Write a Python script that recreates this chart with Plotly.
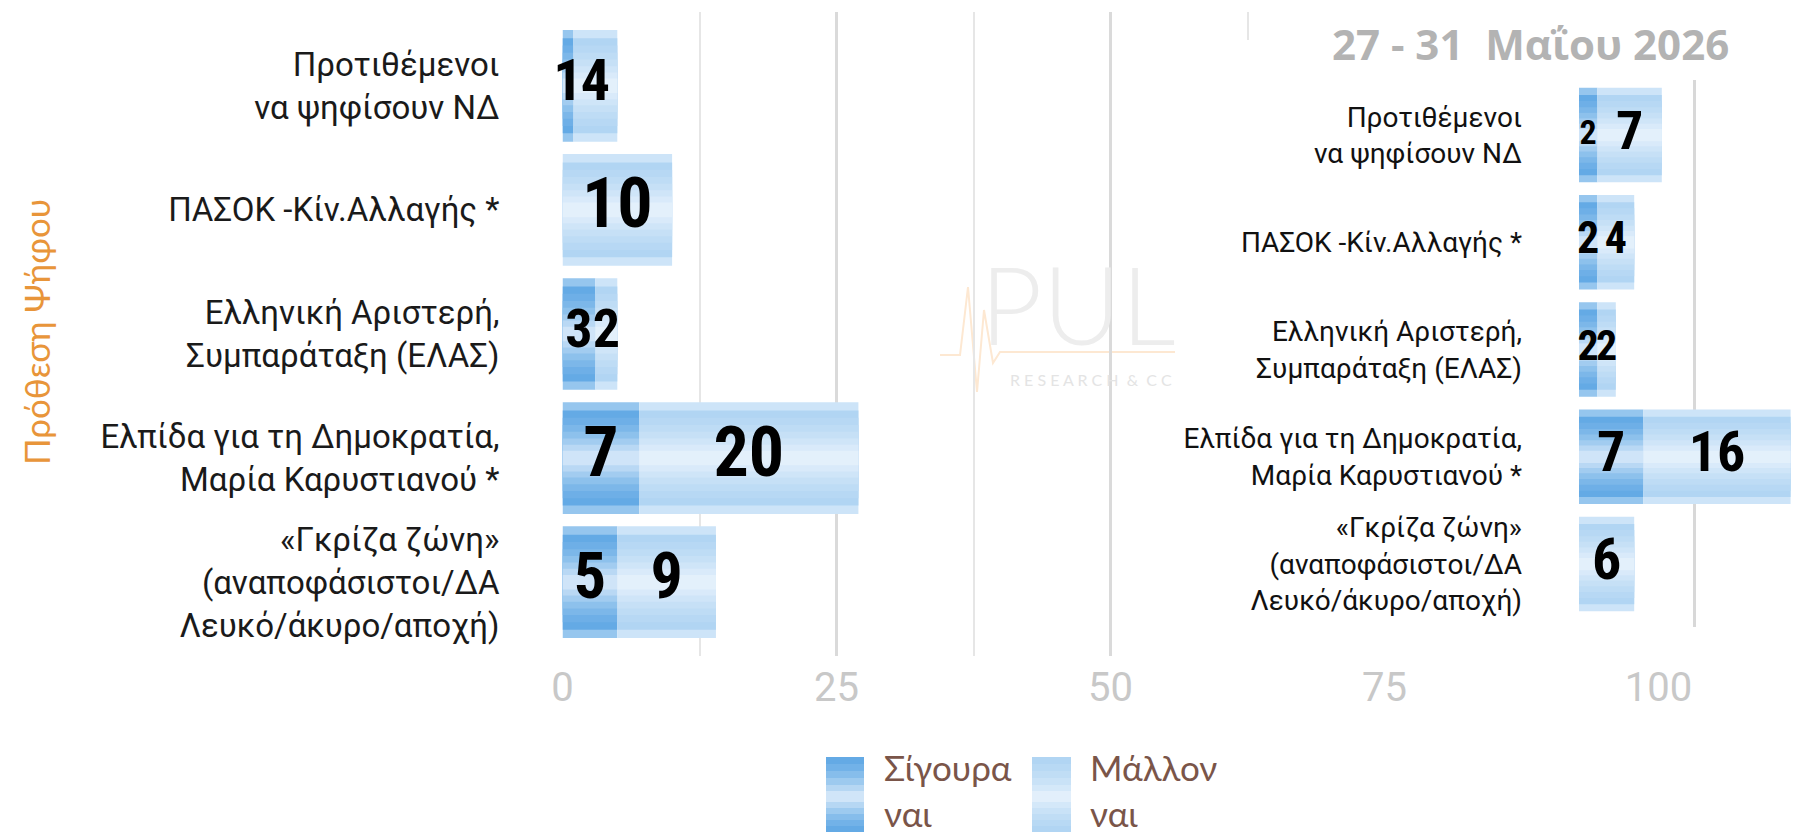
import plotly.graph_objects as go

# page body keeps its default 8px margin, so the figure is offset by 8px
OFF = 8
SCREEN_W, SCREEN_H = 1812, 832
FW, FH = SCREEN_W - OFF, SCREEN_H - OFF

# ---------------- data ----------------
categories = [
    "Προτιθέμενοι<br>να ψηφίσουν ΝΔ",
    "ΠΑΣΟΚ -Κίν.Αλλαγής *",
    "Ελληνική Αριστερή,<br>Συμπαράταξη (ΕΛΑΣ)",
    "Ελπίδα για τη Δημοκρατία,<br>Μαρία Καρυστιανού *",
    "«Γκρίζα ζώνη»<br>(αναποφάσιστοι/ΔΑ<br>Λευκό/άκυρο/αποχή)",
]
main_sure = [1, 0, 3, 7, 5]
main_maybe = [4, 10, 2, 20, 9]
inset_sure = [2, 2, 2, 7, 0]
inset_maybe = [7, 4, 2, 16, 6]
x_ticks = [0, 25, 50, 75, 100]
inset_grid = [0, 12.5, 25]
series_names = ["Σίγουρα<br>ναι", "Μάλλον<br>ναι"]
date_label = "27 - 31\u00a0\u00a0Μαΐου 2026"
y_title = "Πρόθεση Ψήφου"

# ---------------- styles ----------------
NARROW_BOLD = "Liberation Sans Narrow, Roboto Condensed, DejaVu Sans Condensed, sans-serif"
LABEL_FONT = "Roboto, Liberation Sans, sans-serif"
layer_frac = [1.0, 0.85, 0.72, 0.59, 0.47, 0.35, 0.24, 0.13]
sure_colors = ["#96c6ee", "#64aae5", "#6eafe7", "#7cb7e9", "#8dc1ec", "#a2ccf0", "#b9d8f4", "#cfe4f8"]
maybe_colors = ["#cde4f8", "#b1d5f3", "#b7d8f4", "#bedcf5", "#c6e0f6", "#cfe5f8", "#d9eafa", "#e3f0fb"]
main_bar_w = 0.9
inset_bar_w = 0.88
main_sure_sizes = [58, 70, 54, 70, 64]
main_maybe_sizes = [58, 70, 54, 70, 64]
inset_sure_sizes = [34, 44, 42, 56, 56]
inset_maybe_sizes = [54, 44, 42, 56, 58]


def px(x):
    return (x - OFF) / FW


def py(y):
    return max(0.0, min(1.0, 1 - (y - OFF) / FH))


fig = go.Figure()


def add_bars(sure, maybe, bar_w, xa, ya):
    for vals, base, cols in ((sure, [0] * len(sure), sure_colors),
                             (maybe, sure, maybe_colors)):
        for f, c in zip(layer_frac, cols):
            fig.add_trace(go.Bar(
                y=categories, x=vals, base=base, orientation="h",
                width=bar_w * f, marker=dict(color=c, line=dict(width=0)),
                xaxis=xa, yaxis=ya, showlegend=False, hoverinfo="skip"))


def add_labels(sure, maybe, s_sizes, m_sizes, xa, ya):
    fig.add_trace(go.Scatter(
        y=categories, x=[s / 2 for s in sure],
        text=[str(s) if s > 0 else "" for s in sure],
        mode="text", textposition="middle center",
        textfont=dict(family=NARROW_BOLD, size=s_sizes, color="#000000", weight="bold"),
        cliponaxis=False, xaxis=xa, yaxis=ya, showlegend=False, hoverinfo="skip"))
    fig.add_trace(go.Scatter(
        y=categories, x=[s + m / 2 for s, m in zip(sure, maybe)],
        text=[str(m) if m > 0 else "" for m in maybe],
        mode="text", textposition="middle center",
        textfont=dict(family=NARROW_BOLD, size=m_sizes, color="#000000", weight="bold"),
        cliponaxis=False, xaxis=xa, yaxis=ya, showlegend=False, hoverinfo="skip"))


# main chart
add_bars(main_sure, main_maybe, main_bar_w, "x", "y")
add_labels(main_sure, main_maybe, main_sure_sizes, main_maybe_sizes, "x", "y")

# white cover panels (empty subplots) for the pasted inset
fig.add_trace(go.Scatter(x=[None], y=[None], xaxis="x2", yaxis="y2", mode="markers",
                         showlegend=False, hoverinfo="skip"))
fig.add_trace(go.Scatter(x=[None], y=[None], xaxis="x3", yaxis="y3", mode="markers",
                         showlegend=False, hoverinfo="skip"))

# inset chart
add_bars(inset_sure, inset_maybe, inset_bar_w, "x4", "y4")
add_labels(inset_sure, inset_maybe, inset_sure_sizes, inset_maybe_sizes, "x4", "y4")

blank_axis = dict(showgrid=False, zeroline=False, showticklabels=False, showline=False,
                  ticks="", range=[0, 1], fixedrange=True, automargin=False)

main_px_per_unit = 10.96
inset_px_per_unit = 9.2

fig.update_layout(
    width=FW, height=FH,
    margin=dict(l=0, r=0, t=0, b=0, pad=0),
    paper_bgcolor="white", plot_bgcolor="white",
    barmode="overlay",
    showlegend=False,
    xaxis=dict(domain=[px(562.5), 1], range=[0, (SCREEN_W - 562.5) / main_px_per_unit],
               tickmode="array", tickvals=x_ticks, ticks="",
               showgrid=True, gridcolor="#dadada", gridwidth=3, zeroline=False,
               minor=dict(tickmode="linear", tick0=0, dtick=12.5, showgrid=True,
                          gridcolor="#e6e6e6", gridwidth=2, ticks=""),
               tickfont=dict(family="Liberation Sans Narrow, Roboto, sans-serif", size=40, color="#c8c8c8"),
               ticklabelstandoff=4, showline=False, fixedrange=True, anchor="y",
               automargin=False),
    yaxis=dict(domain=[py(656), py(11.7)], type="category", categoryorder="array",
               categoryarray=categories, range=[4.595, -0.597],
               showgrid=False, zeroline=False, ticks="", showline=False,
               tickfont=dict(family=LABEL_FONT, size=33, color="#1a1a1a"),
               ticklabelstandoff=62, fixedrange=True, anchor="x", automargin=False),
    xaxis2=dict(domain=[px(1175), 1], anchor="y2", **blank_axis),
    yaxis2=dict(domain=[py(662), py(40)], anchor="x2", **blank_axis),
    xaxis3=dict(domain=[px(1254), 1], anchor="y3", **blank_axis),
    yaxis3=dict(domain=[py(662), 1], anchor="x3", **blank_axis),
    xaxis4=dict(domain=[px(1579), 1], range=[0, (SCREEN_W - 1579) / inset_px_per_unit],
                tickmode="array", tickvals=inset_grid, showticklabels=False, ticks="",
                showgrid=True, gridcolor="#d8d8d8", gridwidth=3, zeroline=False,
                showline=False, fixedrange=True, anchor="y4", automargin=False),
    yaxis4=dict(domain=[py(627), py(80)], type="category", categoryorder="array",
                categoryarray=categories, range=[4.587, -0.513],
                showgrid=False, zeroline=False, ticks="", showline=False,
                tickfont=dict(family=LABEL_FONT, size=28, color="#111111"),
                ticklabelstandoff=56, fixedrange=True, anchor="x4", automargin=False),
)

# ---------- decorations: titles, watermark, legend ----------
ann = []
ann.append(dict(text=y_title, x=px(36), y=py(332), xref="paper", yref="paper",
                textangle=-90, showarrow=False, xanchor="center", yanchor="middle",
                font=dict(family="Lato, Open Sans, sans-serif", size=35, color="#e8953a")))
ann.append(dict(text=date_label, x=px(1530), y=py(43), xref="paper", yref="paper",
                showarrow=False, xanchor="center", yanchor="middle",
                font=dict(family="Open Sans, sans-serif", size=42, color="#b3b3b3", weight="bold")))
ann.append(dict(text="PUL", x=px(1178), y=py(303), xref="paper", yref="paper",
                showarrow=False, xanchor="right", yanchor="middle",
                font=dict(family="Lato, sans-serif", size=108, color="#ededed", weight=300)))
ann.append(dict(text="R E S E A R C H\u00a0\u00a0&\u00a0\u00a0C C", x=px(1174), y=py(379),
                xref="paper", yref="paper", showarrow=False, xanchor="right", yanchor="middle",
                font=dict(family="Lato, sans-serif", size=16, color="#e4e4e4")))

legend_x = [(826, 864, 882), (1032, 1071, 1088)]
legend_bands = [(757, 832), (764, 826), (771, 820), (778, 814), (785, 808), (791, 802)]
legend_cols = [
    ["#64aae5", "#72b2e8", "#86bdeb", "#9dcaef", "#b6d7f3", "#d0e5f8"],
    ["#b1d5f3", "#b8d9f4", "#c0ddf5", "#c9e2f7", "#d4e8f9", "#e2effb"],
]
shapes = []
for (x0, x1, tx), cols, name in zip(legend_x, legend_cols, series_names):
    for (yt, yb), c in zip(legend_bands, cols):
        shapes.append(dict(type="rect", xref="paper", yref="paper",
                           x0=px(x0), x1=px(x1), y0=py(yb), y1=py(yt),
                           fillcolor=c, line=dict(width=0), layer="above"))
    ann.append(dict(text=name, x=px(tx), y=py(744), xref="paper", yref="paper",
                    showarrow=False, xanchor="left", yanchor="top", align="left",
                    font=dict(family="Lato, Open Sans, sans-serif", size=35, color="#7a5549")))

# faint pulse line of the watermark
pulse = [(940, 355), (960, 355), (968, 287), (977, 392), (984, 310), (993, 363),
         (1000, 352), (1175, 352)]
path = "M " + " L ".join(f"{px(a):.5f},{py(b):.5f}" for a, b in pulse)
shapes.append(dict(type="path", xref="paper", yref="paper", path=path,
                   line=dict(color="#fde8d2", width=2), layer="below"))

fig.update_layout(annotations=ann, shapes=shapes)

fig.write_html("out.html")
